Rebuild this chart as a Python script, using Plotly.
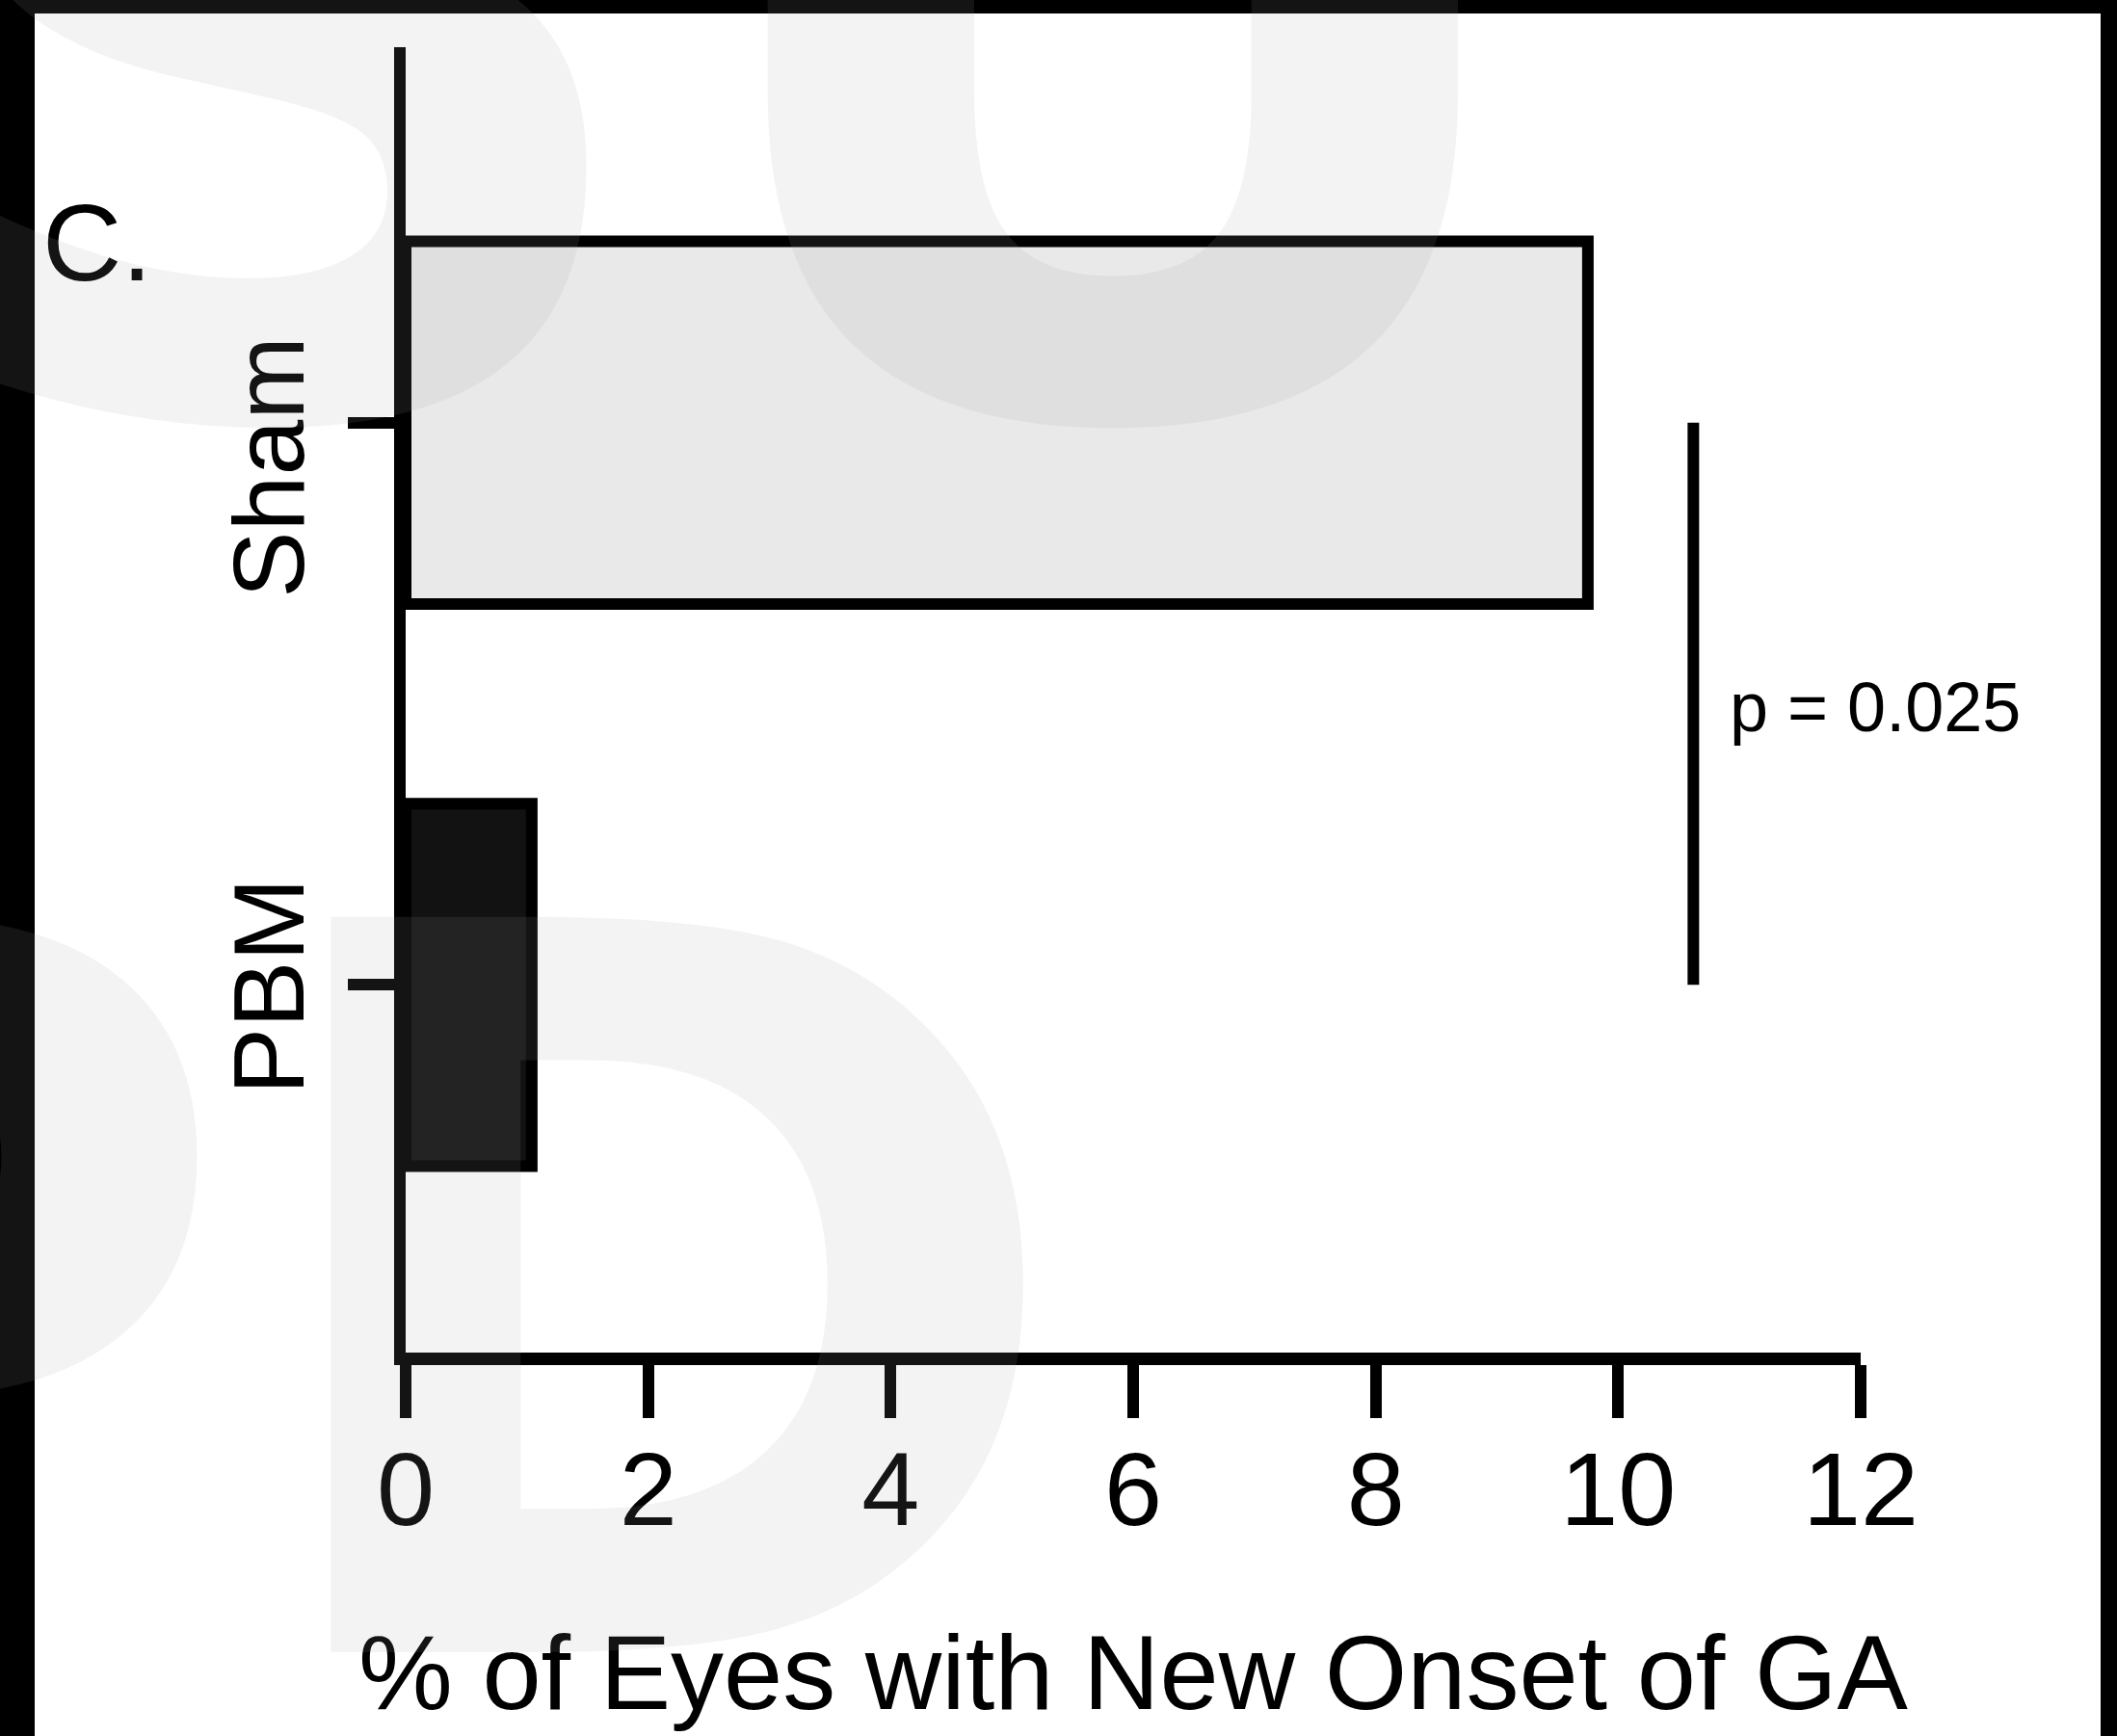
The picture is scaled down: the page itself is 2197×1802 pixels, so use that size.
import plotly.graph_objects as go

# ---- data ----
categories = ["Sham", "PBM"]
pct_new_ga = [9.75, 1.04]
bar_colors = ["#e9e9e9", "#121212"]
x_tickvals = [0, 2, 4, 6, 8, 10, 12]
p_text = "p = 0.025"
panel_label = "C."
x_title = "% of Eyes with New Onset of GA"

W, H = 2197, 1802
L, R, T, B = 421, 266, 49, 398
PW, PH = W - L - R, H - T - B

def px_x(px):
    return (px - L) / PW

def px_y(py):
    return (H - B - py) / PH

FONT = "Liberation Sans, Arial, Helvetica, sans-serif"
WM_FONT = "DejaVu Sans, Liberation Sans, sans-serif"
WM = "rgba(160,160,160,0.125)"

fig = go.Figure()
fig.add_trace(go.Bar(
    y=categories, x=pct_new_ga, orientation="h",
    marker=dict(color=bar_colors, line=dict(color="black", width=12)),
    width=0.645, hoverinfo="skip", showlegend=False,
))
# significance bar between the two groups
fig.add_trace(go.Scatter(
    x=[10.62, 10.62], y=categories, mode="lines",
    line=dict(color="black", width=12), hoverinfo="skip", showlegend=False,
))

annotations = []
for cat, ys in zip(categories, [-46, -2]):
    annotations.append(dict(
        xref="paper", yref="y", x=px_x(279), y=cat, text=cat, showarrow=False,
        textangle=-90, xanchor="center", yanchor="middle", yshift=ys,
        font=dict(family=FONT, size=104, color="black"),
    ))
annotations.append(dict(
    xref="paper", yref="paper", x=px_x(42), y=px_y(252), text=panel_label,
    showarrow=False, xanchor="left", yanchor="middle",
    font=dict(family=FONT, size=114, color="black"),
))
annotations.append(dict(
    xref="paper", yref="paper", x=px_x(1793), y=px_y(734), text=p_text,
    showarrow=False, xanchor="left", yanchor="middle",
    font=dict(family=FONT, size=72, color="black"),
))
# faint watermark letters overlaying the figure
annotations.append(dict(
    xref="paper", yref="paper", x=px_x(1620), y=px_y(699), text="<b>SU</b>",
    showarrow=False, xanchor="right", yanchor="bottom",
    font=dict(family=WM_FONT, size=1140, color=WM),
))
annotations.append(dict(
    xref="paper", yref="paper", x=px_x(1118), y=px_y(1964), text="<b>PD</b>",
    showarrow=False, xanchor="right", yanchor="bottom",
    font=dict(family=WM_FONT, size=1047, color=WM),
))

fig.update_layout(
    width=W, height=H,
    margin=dict(l=L, r=R, t=T, b=B, pad=0),
    paper_bgcolor="black", plot_bgcolor="rgba(0,0,0,0)",
    font=dict(family=FONT, color="black"),
    shapes=[dict(type="rect", xref="paper", yref="paper", layer="below",
                 x0=px_x(36), x1=px_x(2180), y0=px_y(1810), y1=px_y(14),
                 fillcolor="white", line=dict(width=0))],
    annotations=annotations,
    xaxis=dict(
        range=[0, 12], tickvals=x_tickvals, showgrid=False, zeroline=False,
        showline=True, linecolor="black", linewidth=13,
        ticks="outside", ticklen=55, tickwidth=12, tickcolor="black",
        tickfont=dict(family=FONT, size=108, color="black"),
        ticklabelstandoff=-19,
        title=dict(text=x_title, font=dict(family=FONT, size=110, color="black"), standoff=98),
    ),
    yaxis=dict(
        type="category", categoryorder="array", categoryarray=["PBM", "Sham"],
        range=[-0.654, 1.668], showgrid=False, zeroline=False,
        showline=True, linecolor="black", linewidth=12,
        ticks="outside", ticklen=48, tickwidth=12, tickcolor="black",
        showticklabels=False,
    ),
)

fig.write_html(
    "out.html",
    config={"displayModeBar": False},
    post_script="document.body.style.margin='0';document.body.style.overflow='hidden';",
)
